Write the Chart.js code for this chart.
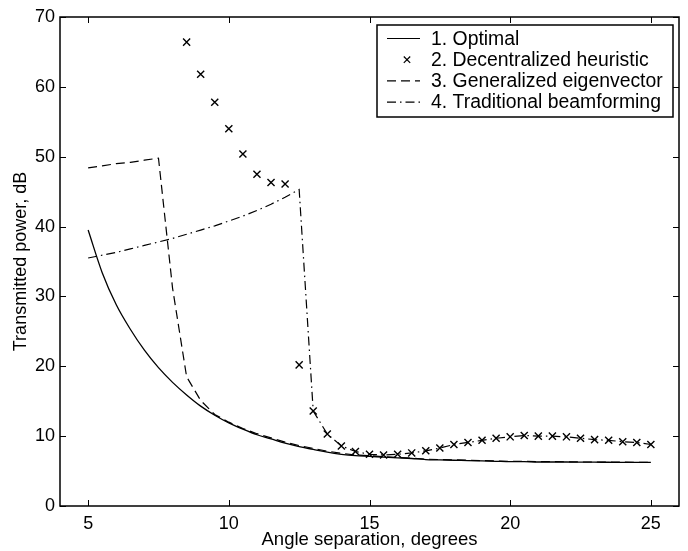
<!DOCTYPE html>
<html>
<head>
<meta charset="utf-8">
<script src="https://cdn.jsdelivr.net/npm/chart.js@4/dist/chart.umd.min.js"></script>
<style>
  html, body { margin: 0; padding: 0; background: #fff; }
  canvas { display: block; }
</style>
</head>
<body>
<canvas id="powerChart" width="688" height="551"></canvas>
<script>
// --- Data (angle step 0.5 deg) ---
const angles = [5, 5.5, 6, 6.5, 7, 7.5, 8, 8.5, 9, 9.5, 10, 10.5, 11, 11.5, 12, 12.5, 13, 13.5, 14, 14.5,
                15, 15.5, 16, 16.5, 17, 17.5, 18, 18.5, 19, 19.5, 20, 20.5, 21, 21.5, 22, 22.5, 23, 23.5, 24, 24.5, 25];

const optimal = [39.5, 33.4, 28.8, 25.3, 22.3, 19.8, 17.7, 15.9, 14.3, 13.0, 11.9, 11.0, 10.2, 9.6, 9.0, 8.5, 8.1, 7.7, 7.4, 7.2,
                 7.1, 7.0, 6.9, 6.8, 6.65, 6.6, 6.55, 6.5, 6.45, 6.4, 6.35, 6.35, 6.3, 6.3, 6.3, 6.28, 6.27, 6.26, 6.25, 6.25, 6.25];

const heuristic = [null, null, null, null, null, null, null, 66.4, 61.8, 57.8, 54.0, 50.4, 47.5, 46.3, 46.1, 20.2, 13.6, 10.3, 8.6, 7.8,
                   7.4, 7.3, 7.4, 7.6, 7.9, 8.3, 8.8, 9.1, 9.4, 9.7, 9.9, 10.1, 10.0, 10.0, 9.9, 9.7, 9.5, 9.4, 9.2, 9.1, 8.8];

const eigenvector = [48.4, 48.7, 49.0, 49.2, 49.5, 49.8, 31.2, 18.5, 15.1, 13.1, 12.0, 11.1, 10.35, 9.75, 9.15, 8.65, 8.25, 7.85, 7.55, 7.3,
                     7.2, 7.05, 6.95, 6.85, 6.7, 6.65, 6.6, 6.55, 6.5, 6.45, 6.4, 6.4, 6.35, 6.35, 6.33, 6.3, 6.3, 6.28, 6.27, 6.26, 6.26];

const traditional = [35.5, 35.9, 36.3, 36.8, 37.3, 37.8, 38.3, 38.9, 39.5, 40.1, 40.8, 41.5, 42.3, 43.2, 44.2, 45.3, 13.6, 10.3, 8.6, 7.8,
                     7.4, 7.3, 7.4, 7.6, 7.9, 8.3, 8.8, 9.1, 9.4, 9.7, 9.9, 10.1, 10.0, 10.0, 9.9, 9.7, 9.5, 9.4, 9.2, 9.1, 8.8];

const seriesLabels = ['1. Optimal', '2. Decentralized heuristic', '3. Generalized eigenvector', '4. Traditional beamforming'];

const xTicks = [5, 10, 15, 20, 25];
const yTicks = [0, 10, 20, 30, 40, 50, 60, 70];

const FONT = '"Liberation Sans", Arial, Helvetica, sans-serif';
Chart.defaults.font.family = FONT;
Chart.defaults.color = '#000';

function toPoints(values) {
    return angles.map((a, i) => ({ x: a, y: values[i] }));
}

// inward ticks on all four sides + the box frame (matlab look)
const frameTicks = {
    id: 'frameTicks',
    afterDatasetsDraw(chart) {
        const { ctx, chartArea: a, scales } = chart;
        const len = 6;
        ctx.save();
        ctx.strokeStyle = '#000';
        ctx.lineWidth = 1;
        ctx.beginPath();
        xTicks.forEach(v => {
            const px = Math.round(scales.x.getPixelForValue(v)) + 0.5;
            ctx.moveTo(px, a.bottom); ctx.lineTo(px, a.bottom - len);
            ctx.moveTo(px, a.top); ctx.lineTo(px, a.top + len);
        });
        yTicks.forEach(v => {
            const py = Math.round(scales.y.getPixelForValue(v)) + 0.5;
            ctx.moveTo(a.left, py); ctx.lineTo(a.left + len, py);
            ctx.moveTo(a.right, py); ctx.lineTo(a.right - len, py);
        });
        ctx.stroke();
        ctx.lineWidth = 1.5;
        ctx.strokeRect(a.left, a.top, a.right - a.left, a.bottom - a.top);
        ctx.restore();
    }
};

// boxed legend in the upper right corner of the plot
const boxLegend = {
    id: 'boxLegend',
    afterDraw(chart) {
        const { ctx, chartArea: a } = chart;
        const w = 296, h = 92;
        const left = a.right - 302, top = a.top + 8;
        const rowH = 21.2;
        ctx.save();
        ctx.fillStyle = '#fff';
        ctx.fillRect(left, top, w, h);
        ctx.strokeStyle = '#000';
        ctx.lineWidth = 1.5;
        ctx.strokeRect(left, top, w, h);

        chart.data.datasets.forEach((ds, i) => {
            const cy = top + 13.5 + i * rowH;
            ctx.strokeStyle = '#000';
            ctx.lineWidth = 1.2;
            if (ds.showLine === false) {
                const cx = left + 30, r = 3.2;
                ctx.setLineDash([]);
                ctx.beginPath();
                ctx.moveTo(cx - r, cy - r); ctx.lineTo(cx + r, cy + r);
                ctx.moveTo(cx - r, cy + r); ctx.lineTo(cx + r, cy - r);
                ctx.stroke();
            } else {
                ctx.setLineDash(ds.borderDash || []);
                ctx.beginPath();
                ctx.moveTo(left + 10, cy); ctx.lineTo(left + 43, cy);
                ctx.stroke();
            }
            ctx.setLineDash([]);
            ctx.fillStyle = '#000';
            ctx.font = '19.4px ' + FONT;
            ctx.textBaseline = 'middle';
            ctx.textAlign = 'left';
            ctx.fillText(ds.label, left + 54, cy + 1);
        });
        ctx.restore();
    }
};

const ctx = document.getElementById('powerChart').getContext('2d');

new Chart(ctx, {
    type: 'line',
    data: {
        datasets: [
            {
                label: seriesLabels[0],
                data: toPoints(optimal),
                borderColor: '#000',
                borderWidth: 1.3,
                pointRadius: 0,
                cubicInterpolationMode: 'monotone', // smooth curve like the original
                fill: false
            },
            {
                label: seriesLabels[1],
                data: toPoints(heuristic),
                showLine: false,
                pointStyle: 'crossRot',
                pointRadius: 5,
                borderColor: '#000',
                pointBorderWidth: 1.4,
                fill: false
            },
            {
                label: seriesLabels[2],
                data: toPoints(eigenvector),
                borderColor: '#000',
                borderWidth: 1.2,
                borderDash: [9, 5],
                pointRadius: 0,
                tension: 0,
                fill: false
            },
            {
                label: seriesLabels[3],
                data: toPoints(traditional),
                borderColor: '#000',
                borderWidth: 1.2,
                borderDash: [9, 4, 1.5, 4],
                pointRadius: 0,
                tension: 0,
                fill: false
            }
        ]
    },
    options: {
        responsive: false,
        animation: false,
        layout: { padding: { top: 17, right: 9, left: 0, bottom: 0 } },
        plugins: {
            legend: { display: false },
            tooltip: { enabled: false }
        },
        scales: {
            x: {
                type: 'linear',
                min: 4,
                max: 26,
                afterBuildTicks: s => { s.ticks = xTicks.map(v => ({ value: v })); },
                afterFit: s => { s.height = 45; },
                grid: { display: false, drawTicks: false },
                border: { display: false },
                ticks: { font: { size: 18 }, padding: 7, maxRotation: 0 },
                title: {
                    display: true,
                    text: 'Angle separation, degrees',
                    font: { size: 18.5 },
                    padding: 0
                }
            },
            y: {
                type: 'linear',
                min: 0,
                max: 70,
                afterBuildTicks: s => { s.ticks = yTicks.map(v => ({ value: v })); },
                afterFit: s => { s.width = 60; },
                grid: { display: false, drawTicks: false },
                border: { display: false },
                ticks: { font: { size: 18 }, padding: 5 },
                title: {
                    display: true,
                    text: 'Transmitted power, dB',
                    font: { size: 18 },
                    padding: { top: 10, bottom: 0 }
                }
            }
        }
    },
    plugins: [frameTicks, boxLegend]
});
</script>
</body>
</html>
